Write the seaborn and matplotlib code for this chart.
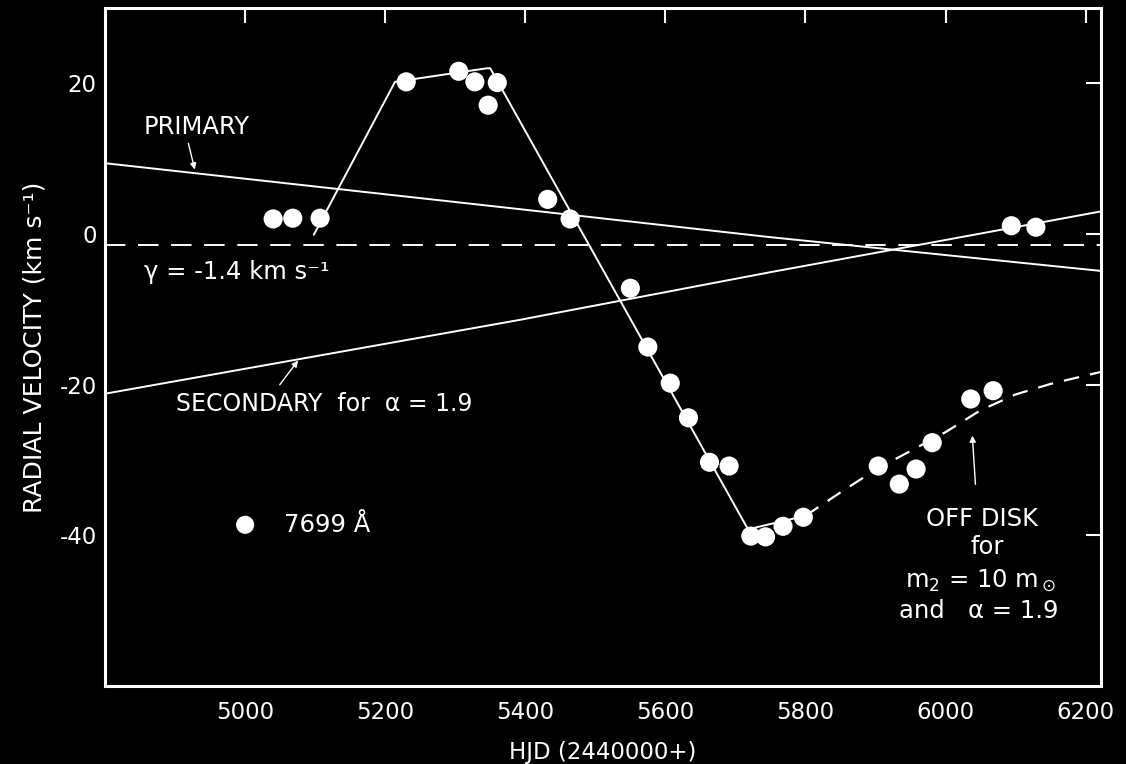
import numpy as np
import pandas as pd
import matplotlib
matplotlib.use("Agg")
import matplotlib.pyplot as plt
import seaborn as sns

# ---------------- data ----------------
hjd = [5040, 5068, 5107, 5230, 5305, 5328, 5347, 5360, 5432, 5464, 5550, 5575,
       5607, 5633, 5663, 5691, 5722, 5743, 5768, 5797, 5904, 5934, 5958, 5981,
       6036, 6068, 6094, 6129]
rv = [2.0, 2.1, 2.1, 20.2, 21.6, 20.2, 17.1, 20.1, 4.6, 2.0, -7.2, -15.0,
      -19.8, -24.4, -30.3, -30.8, -40.1, -40.2, -38.8, -37.6, -30.8, -33.2, -31.2, -27.7,
      -21.9, -20.8, 1.1, 0.9]

model_hjd = [5098, 5214, 5345, 5350, 5718, 5800]
model_rv = [-0.1, 20.2, 22.0, 22.0, -39.2, -37.4]

offdisk_hjd = [5800, 5850, 5900, 5950, 6000, 6050, 6100, 6150, 6222]
offdisk_rv = [-37.4, -34.3, -31.3, -28.8, -26.3, -23.4, -21.3, -19.9, -18.3]

primary_hjd = [4800, 5392, 5748, 6222]
primary_rv = [9.4, 3.3, -0.4, -4.9]

secondary_hjd = [4800, 5392, 5748, 6222]
secondary_rv = [-21.2, -11.4, -5.1, 3.0]

gamma = -1.4

xticks = [5000, 5200, 5400, 5600, 5800, 6000, 6200]
yticks = [20, 0, -20, -40]

# ---------------- style ----------------
sns.set_theme(style="dark")
plt.rcParams.update({
    "figure.facecolor": "black",
    "axes.facecolor": "black",
    "axes.edgecolor": "white",
    "text.color": "white",
    "axes.labelcolor": "white",
    "xtick.color": "white",
    "ytick.color": "white",
    "axes.unicode_minus": False,
    "mathtext.fontset": "dejavusans",
})
plt.rcParams["font.family"] = ["DejaVu Sans"]

fig = plt.figure(figsize=(11.26, 7.64), dpi=100)
ax = fig.add_axes([0.0933, 0.1021, 0.8845, 0.8874])
ax.set_facecolor("black")

W = "white"
lw = 1.4

df_pts = pd.DataFrame({"hjd": hjd, "rv": rv})
df_model = pd.DataFrame({"hjd": model_hjd, "rv": model_rv})
df_off = pd.DataFrame({"hjd": offdisk_hjd, "rv": offdisk_rv})
df_pri = pd.DataFrame({"hjd": primary_hjd, "rv": primary_rv})
df_sec = pd.DataFrame({"hjd": secondary_hjd, "rv": secondary_rv})

sns.lineplot(data=df_pri, x="hjd", y="rv", ax=ax, color=W, lw=lw, sort=False, estimator=None)
sns.lineplot(data=df_sec, x="hjd", y="rv", ax=ax, color=W, lw=lw, sort=False, estimator=None)
ax.axhline(gamma, color=W, lw=1.4, dashes=(10.5, 6.5))
sns.lineplot(data=df_model, x="hjd", y="rv", ax=ax, color=W, lw=lw, sort=False, estimator=None)
sns.lineplot(data=df_off, x="hjd", y="rv", ax=ax, color=W, lw=1.6,
             sort=False, estimator=None)
ax.lines[-1].set_dashes((7, 5))
sns.scatterplot(data=df_pts, x="hjd", y="rv", ax=ax, color=W, s=190,
                edgecolor="none", zorder=5)

# ---------------- axes ----------------
ax.set_xlim(4800, 6222)
ax.set_ylim(-60, 30)
ax.set_xticks(xticks)
ax.set_yticks(yticks)
ax.set_xticklabels([str(t) for t in xticks])
ax.set_yticklabels([str(t) for t in yticks])
ax.tick_params(direction="in", length=11, width=1.5, top=True, right=True,
               labelsize=16.5, colors=W)
ax.tick_params(axis="x", pad=11)
ax.tick_params(axis="y", pad=6)
for sp in ax.spines.values():
    sp.set_color(W)
    sp.set_linewidth(2.2)
    sp.set_visible(True)
ax.grid(False)
ax.set_xlabel("HJD (2440000+)", fontsize=16.5, labelpad=12)
ax.set_ylabel("RADIAL VELOCITY (km s\u207b\u00b9)", fontsize=18, labelpad=9)

# ---------------- annotations ----------------
fs = 17.5
ax.text(4855, 14.2, "PRIMARY", fontsize=fs, va="center", ha="left")
ax.annotate("", xy=(4929, 8.2), xytext=(4918, 12.4),
            arrowprops=dict(arrowstyle="-|>", color=W, lw=1.0, mutation_scale=9))
ax.text(4855, -5.1, "\u03b3 = -1.4 km s\u207b\u00b9", fontsize=fs, va="center", ha="left")
ax.text(4902, -22.6, "SECONDARY  for  \u03b1 = 1.9", fontsize=fs - 0.5, va="center", ha="left")
ax.annotate("", xy=(5078, -16.5), xytext=(5047, -20.3),
            arrowprops=dict(arrowstyle="-|>", color=W, lw=1.0, mutation_scale=9))
ax.scatter([5000], [-38.6], s=170, color=W, edgecolor="none")
ax.text(5055, -38.6, "7699 \u00c5", fontsize=fs, va="center", ha="left")

ax.annotate("", xy=(6038, -26.4), xytext=(6043, -33.6),
            arrowprops=dict(arrowstyle="-|>", color=W, lw=1.0, mutation_scale=9))
ax.text(6052, -37.8, "OFF DISK", fontsize=fs, va="center", ha="center")
ax.text(6060, -41.6, "for", fontsize=fs, va="center", ha="center")
ax.text(6050, -46.0, r"m$_2$ = 10 m$_\odot$", fontsize=fs, va="center", ha="center")
ax.text(6048, -50.1, "and   \u03b1 = 1.9", fontsize=fs, va="center", ha="center")

fig.savefig("out.png", dpi=100, facecolor="black")
